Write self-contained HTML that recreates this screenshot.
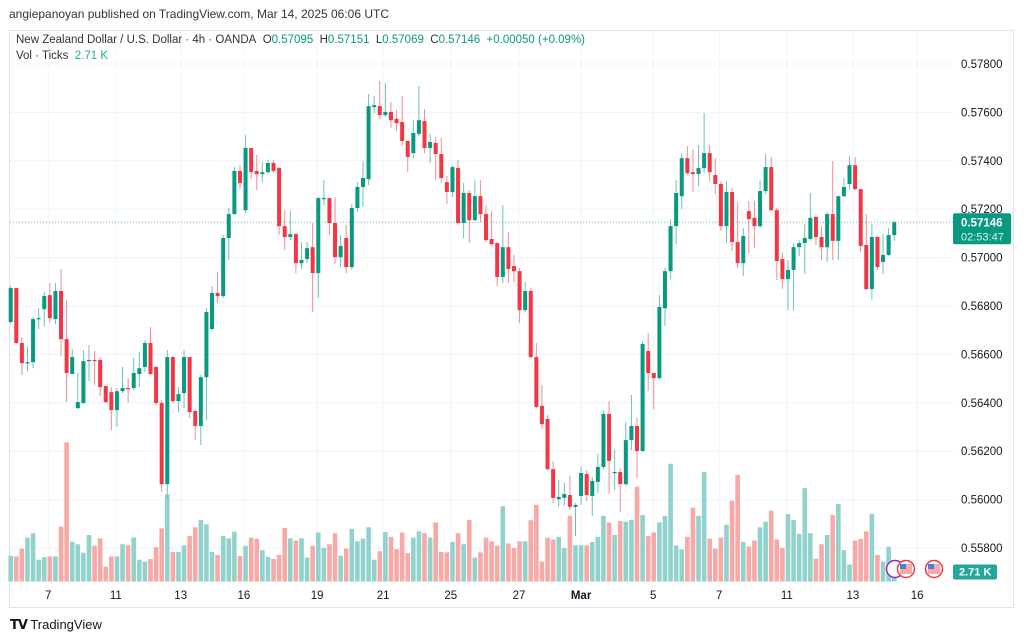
<!DOCTYPE html>
<html><head><meta charset="utf-8">
<style>
html,body{margin:0;padding:0;background:#fff;width:1024px;height:641px;overflow:hidden;font-family:"Liberation Sans","DejaVu Sans",sans-serif;}
#wrap{position:relative;width:1024px;height:641px;}
.t{position:absolute;white-space:nowrap;color:#131722;}
</style></head>
<body>
<div id="wrap">
<div class="t" style="left:9px;top:7px;font-size:12px;color:#333;">angiepanoyan published on TradingView.com, Mar 14, 2025 06:06 UTC</div>
<svg id="chart" width="1024" height="641" style="position:absolute;left:0;top:0"></svg>
<div class="t" style="left:16px;top:34px;font-size:11.5px;color:#333;">New Zealand Dollar / U.S. Dollar · 4h · OANDA&nbsp; O<span style="color:#089981">0.57095</span>&nbsp; H<span style="color:#089981">0.57151</span>&nbsp; L<span style="color:#089981">0.57069</span>&nbsp; C<span style="color:#089981">0.57146</span>&nbsp; <span style="color:#089981">+0.00050 (+0.09%)</span></div>
<div class="t" style="left:16px;top:50px;font-size:11.5px;color:#333;">Vol · Ticks&nbsp; <span style="color:#22ab94">2.71 K</span></div>
<div class="t" style="left:10px;top:617px;font-size:13px;color:#131722;"><b style="font-size:13px;letter-spacing:-1px">𝗧𝗩</b> TradingView</div>
</div>
<script>
const opens=[0.56734,0.56874,0.56647,0.56564,0.56568,0.56746,0.56787,0.56845,0.56746,0.56862,0.56663,0.56519,0.56378,0.56399,0.56572,0.56577,0.56577,0.56469,0.56444,0.56370,0.56448,0.56461,0.56461,0.56519,0.56548,0.56647,0.56548,0.56399,0.56064,0.56589,0.56407,0.56440,0.56589,0.56366,0.56304,0.56506,0.56705,0.56854,0.56841,0.57081,0.57180,0.57358,0.57196,0.57453,0.57358,0.57345,0.57353,0.57391,0.57370,0.57130,0.57085,0.57097,0.56977,0.56994,0.57043,0.56936,0.57242,0.57246,0.57143,0.57002,0.57081,0.56961,0.57205,0.57292,0.57324,0.57622,0.57626,0.57589,0.57602,0.57573,0.57560,0.57482,0.57432,0.57511,0.57564,0.57453,0.57474,0.57428,0.57312,0.57271,0.57370,0.57143,0.57267,0.57155,0.57254,0.57180,0.57077,0.57060,0.56920,0.57043,0.56965,0.56944,0.56783,0.56862,0.56589,0.56387,0.56333,0.56126,0.56002,0.56007,0.56019,0.55970,0.56015,0.56106,0.56015,0.56073,0.56135,0.56354,0.56110,0.56114,0.56064,0.56246,0.56304,0.56201,0.56614,0.56523,0.56502,0.56791,0.56944,0.57130,0.57254,0.57411,0.57353,0.57345,0.57370,0.57432,0.57341,0.57304,0.57130,0.57271,0.57064,0.56977,0.57192,0.57164,0.57130,0.57275,0.57374,0.57196,0.56994,0.56911,0.56949,0.57043,0.57060,0.57077,0.57168,0.57085,0.57043,0.57180,0.57069,0.57254,0.57304,0.57382,0.57283,0.57052,0.56870,0.57085,0.56982,0.57011,0.57093];
const highs=[0.56882,0.56874,0.56672,0.56634,0.56754,0.56791,0.56858,0.56895,0.56895,0.56953,0.56824,0.56622,0.56523,0.56618,0.56638,0.56614,0.56589,0.56469,0.56465,0.56461,0.56548,0.56502,0.56585,0.56610,0.56659,0.56713,0.56552,0.56412,0.56618,0.56593,0.56465,0.56618,0.56589,0.56374,0.56515,0.56791,0.56882,0.56941,0.57093,0.57205,0.57374,0.57382,0.57506,0.57453,0.57424,0.57395,0.57403,0.57403,0.57374,0.57196,0.57192,0.57101,0.57064,0.57064,0.57143,0.57250,0.57320,0.57246,0.57250,0.57093,0.57135,0.57221,0.57312,0.57399,0.57676,0.57668,0.57730,0.57721,0.57643,0.57610,0.57668,0.57482,0.57568,0.57709,0.57614,0.57511,0.57498,0.57494,0.57337,0.57382,0.57403,0.57308,0.57279,0.57320,0.57320,0.57217,0.57192,0.57064,0.57217,0.57106,0.57011,0.56957,0.56899,0.56874,0.56647,0.56473,0.56350,0.56160,0.56081,0.56069,0.56098,0.55986,0.56135,0.56122,0.56093,0.56189,0.56366,0.56407,0.56205,0.56131,0.56321,0.56432,0.56341,0.56655,0.56688,0.56523,0.56845,0.56957,0.57159,0.57320,0.57432,0.57461,0.57448,0.57465,0.57597,0.57465,0.57411,0.57316,0.57316,0.57288,0.57230,0.57122,0.57234,0.57234,0.57320,0.57428,0.57416,0.57205,0.57019,0.56990,0.57060,0.57072,0.57139,0.57267,0.57172,0.57130,0.57188,0.57399,0.57254,0.57329,0.57420,0.57416,0.57283,0.57180,0.57139,0.57089,0.57097,0.57122,0.57151];
const lows=[0.56725,0.56643,0.56515,0.56531,0.56543,0.56705,0.56717,0.56729,0.56725,0.56593,0.56403,0.56519,0.56374,0.56395,0.56490,0.56473,0.56428,0.56399,0.56287,0.56300,0.56440,0.56399,0.56453,0.56465,0.56527,0.56515,0.56391,0.56031,0.56002,0.56399,0.56362,0.56378,0.56337,0.56246,0.56226,0.56329,0.56697,0.56812,0.56833,0.56990,0.57176,0.57283,0.57184,0.57324,0.57279,0.57312,0.57345,0.57349,0.57093,0.57031,0.57072,0.56936,0.56953,0.56977,0.56775,0.56833,0.57217,0.57093,0.56973,0.56961,0.56936,0.56949,0.57188,0.57209,0.57300,0.57597,0.57573,0.57581,0.57536,0.57523,0.57461,0.57353,0.57411,0.57502,0.57432,0.57391,0.57320,0.57308,0.57221,0.57250,0.57135,0.57081,0.57060,0.57151,0.57147,0.57064,0.57048,0.56882,0.56895,0.56895,0.56899,0.56729,0.56775,0.56585,0.56378,0.56292,0.56122,0.55986,0.55970,0.55974,0.55957,0.55850,0.55978,0.55994,0.55932,0.56027,0.56126,0.56023,0.56040,0.55949,0.56056,0.56205,0.56089,0.56197,0.56448,0.56374,0.56494,0.56717,0.56911,0.57056,0.57200,0.57341,0.57271,0.57296,0.57349,0.57316,0.57263,0.57110,0.57060,0.57027,0.56957,0.56924,0.57019,0.57039,0.57122,0.57263,0.57192,0.56907,0.56870,0.56783,0.56783,0.57007,0.56932,0.57069,0.57052,0.56990,0.56982,0.56990,0.56990,0.57250,0.57283,0.57279,0.57023,0.56866,0.56824,0.56949,0.56932,0.57007,0.57069];
const closes=[0.56874,0.56647,0.56564,0.56568,0.56746,0.56750,0.56841,0.56750,0.56862,0.56663,0.56523,0.56589,0.56403,0.56572,0.56577,0.56572,0.56465,0.56403,0.56370,0.56448,0.56461,0.56457,0.56523,0.56543,0.56647,0.56519,0.56399,0.56064,0.56589,0.56407,0.56436,0.56589,0.56362,0.56304,0.56506,0.56775,0.56854,0.56841,0.57081,0.57180,0.57358,0.57308,0.57453,0.57353,0.57345,0.57353,0.57391,0.57358,0.57130,0.57085,0.57097,0.56977,0.56990,0.57039,0.56936,0.57246,0.57246,0.57143,0.57002,0.57048,0.56961,0.57205,0.57292,0.57329,0.57626,0.57630,0.57589,0.57602,0.57568,0.57556,0.57482,0.57416,0.57515,0.57568,0.57453,0.57478,0.57428,0.57329,0.57271,0.57374,0.57143,0.57267,0.57155,0.57254,0.57180,0.57072,0.57056,0.56920,0.57043,0.56953,0.56944,0.56783,0.56862,0.56589,0.56383,0.56312,0.56126,0.56007,0.56011,0.56023,0.55970,0.55978,0.56110,0.56019,0.56077,0.56135,0.56354,0.56160,0.56114,0.56064,0.56246,0.56304,0.56201,0.56643,0.56523,0.56502,0.56796,0.56944,0.57130,0.57267,0.57411,0.57349,0.57345,0.57370,0.57432,0.57353,0.57304,0.57130,0.57271,0.57064,0.56977,0.57089,0.57159,0.57130,0.57275,0.57374,0.57196,0.56986,0.56911,0.56949,0.57043,0.57060,0.57081,0.57164,0.57085,0.57043,0.57180,0.57069,0.57254,0.57292,0.57382,0.57283,0.57048,0.56870,0.57085,0.56961,0.57011,0.57093,0.57146];
const volumes=[7.0,6.8,8.9,11.9,13.1,5.9,6.6,6.8,6.8,14.9,37.7,10.8,10.1,7.8,12.6,9.7,11.7,4.0,6.8,6.8,10.1,9.8,11.9,5.9,5.4,6.1,9.3,14.4,23.6,8.0,8.0,9.8,12.3,14.7,16.7,15.5,8.0,7.2,12.3,11.7,13.5,6.9,9.7,11.9,11.6,8.5,6.7,6.1,7.2,14.5,11.7,11.1,11.7,6.5,9.7,13.3,9.1,10.1,13.1,7.0,8.9,14.3,10.9,11.6,14.7,5.9,8.2,13.4,12.1,8.8,13.3,7.7,11.9,13.6,13.1,11.9,16.0,8.0,7.9,10.7,13.1,10.1,16.7,6.5,7.9,11.9,10.9,9.7,20.4,10.3,9.1,10.9,10.9,16.6,20.8,5.4,11.9,11.4,12.1,9.1,17.8,9.8,9.8,9.8,10.7,12.1,17.8,16.0,12.6,16.4,16.2,16.7,25.7,18.0,12.3,13.3,16.0,17.8,31.9,9.8,8.7,12.1,20.0,17.8,29.7,11.6,8.9,11.9,15.4,21.9,28.9,10.7,9.5,11.1,14.7,16.2,19.2,11.4,9.1,18.3,16.7,12.9,25.3,13.1,6.2,10.1,12.6,18.0,21.0,8.5,4.6,11.1,11.6,13.6,18.3,7.2,5.4,9.4,2.71];
const priceTicks=[0.578,0.576,0.574,0.572,0.570,0.568,0.566,0.564,0.562,0.560,0.558];
const timeTickLabels=["7","11","13","16","19","21","25","27","Mar","5","7","11","13","16"];
const timeTickIndex=[6.7,18.8,30.4,41.7,54.8,66.6,78.7,90.9,102,114.9,126.7,138.8,150.6,162.1];

const svg=document.getElementById('chart');
const NS='http://www.w3.org/2000/svg';
const X0=10.7, STEP=5.592, PY0=64, PTOP=0.578, PXPER=24200;
const VBASE=581.5, VPX=10/2.71;
const xAt=i=>X0+i*STEP;
const yAt=p=>PY0+(PTOP-p)*PXPER;
const vH=v=>v*VPX;
function el(tag,attrs,parent){const e=document.createElementNS(NS,tag);for(const k in attrs)e.setAttribute(k,attrs[k]);(parent||svg).appendChild(e);return e;}

const frame=el('rect',{x:9.5,y:30.5,width:1004,height:577,fill:'none',stroke:'#e0e3eb'});



const grid=el('g',{});


priceTicks.forEach(p=>{const l=el('line',{x1:10,x2:953,y1:yAt(p),y2:yAt(p),stroke:'#f0f3fa','stroke-width':1},grid);

});
timeTickIndex.forEach(i=>{const l=el('line',{x1:xAt(i),x2:xAt(i),y1:31,y2:582,stroke:'#f0f3fa','stroke-width':1},grid);

});

const vg=el('g',{});


volumes.forEach((v,i)=>{const up=closes[i]>=opens[i];
const r=el('rect',{x:xAt(i)-2.3,y:VBASE-vH(v),width:4.6,height:vH(v),fill:up?'#92d2cc':'#f7a9a7'},vg);

});

const cg=el('g',{});


opens.forEach((o,i)=>{const c=closes[i],up=c>=o,col=up?'#089981':'#f23645';const x=xAt(i);
const w=el('line',{x1:x,x2:x,y1:yAt(highs[i]),y2:yAt(lows[i]),stroke:up?'#6cc0b3':'#f58a93','stroke-width':1},cg);


const top=Math.min(yAt(o),yAt(c)),h=Math.max(1.2,Math.abs(yAt(o)-yAt(c)));
const b=el('rect',{x:x-2,y:top,width:4,height:h,fill:col},cg);

});

const last=closes[closes.length-1];
const ll=el('line',{x1:10,x2:953,y1:yAt(last),y2:yAt(last),stroke:'#089981','stroke-width':1,'stroke-dasharray':'1 2',opacity:0.6});



const pax=el('g',{'font-size':'11.5','fill':'#131722','font-family':'Liberation Sans, sans-serif'});


priceTicks.forEach(p=>{if(Math.abs(yAt(p)-yAt(last))<12)return;const t=el('text',{x:961,y:yAt(p)+4},pax);t.textContent=p.toFixed(5);

});

const tag=el('rect',{x:953,y:yAt(last)-9,width:58,height:31,rx:2,fill:'#089981'});


const t1=el('text',{x:961,y:yAt(last)+4,'font-size':'11.5',fill:'#fff','font-weight':'bold'});t1.textContent=last.toFixed(5);


const t2=el('text',{x:961,y:yAt(last)+18,'font-size':'11',fill:'#d9f2ee'});t2.textContent='02:53:47';



const vtag=el('rect',{x:953,y:VBASE-17,width:44,height:15,rx:2,fill:'#26a69a'});


const vt=el('text',{x:959,y:VBASE-6,'font-size':'11',fill:'#fff','font-weight':'bold'});vt.textContent='2.71 K';



const tax=el('g',{'font-size':'11.5',fill:'#131722','text-anchor':'middle'});


timeTickLabels.forEach((s,k)=>{const t=el('text',{x:xAt(timeTickIndex[k]),y:599,'font-weight':s==='Mar'?'bold':'normal'},tax);t.textContent=s;

});

[[895,'#9c27b0'],[906,'#f23645'],[934,'#f23645']].forEach(([cx,c],k)=>{
const g=el('g',{});


el('circle',{cx:cx,cy:569,r:8.5,fill:'#fff',stroke:c,'stroke-width':1.5},g);
if(k>0){el('rect',{x:cx-6,y:564,width:12,height:10,fill:'#f7a9a7'},g);el('rect',{x:cx-6,y:564,width:6,height:5,fill:'#4a7fd6'},g);}
});
</script>
</body></html>
